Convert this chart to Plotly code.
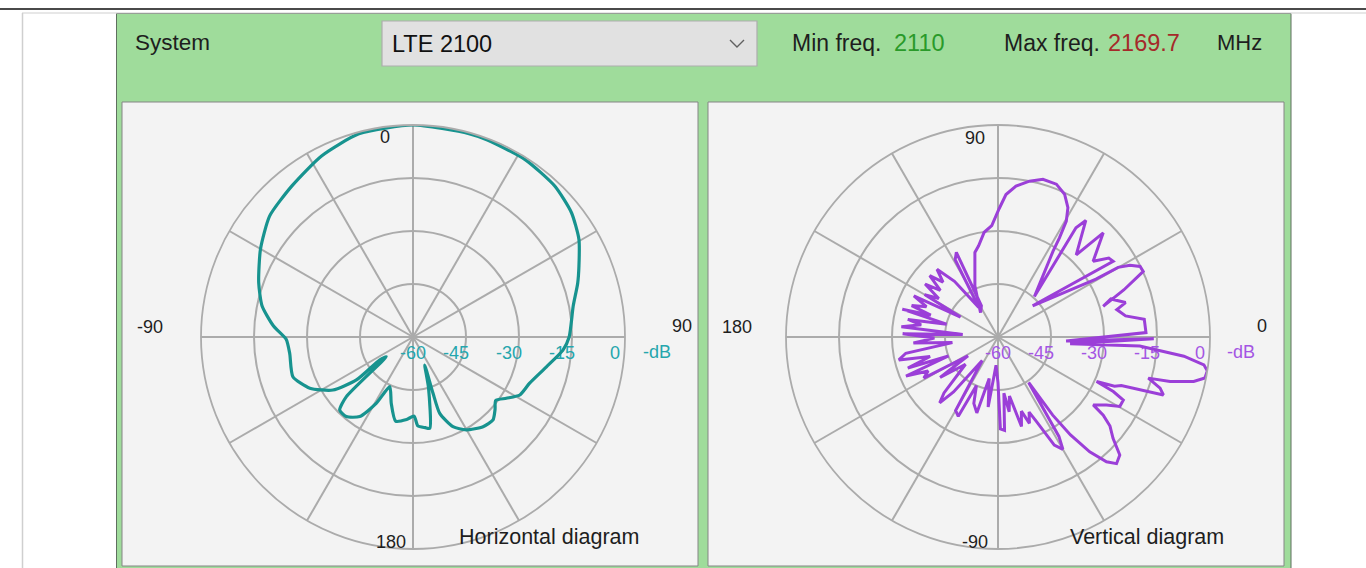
import plotly.graph_objects as go

W, H = 1366, 568

# ---- data -------------------------------------------------------------
# Horizontal diagram: azimuth in degrees (clockwise, 0 = boresight), level in dB
h_angle = [0, 15.4, 20.7, 32.3, 43.2, 51.9, 59.5, 66.8, 72, 79, 90, 95, 102.6,
           111.6, 118.5, 123.3, 127.5, 131.5, 136, 142, 150.2, 156, 160.7,
           160.4, 157.3, 163, 169.6, 172.3, 176.9, 179.2, -175.6, -168.3,
           -161.9, -154.9, -151, -146.2, -140, -134.9, -131.8, -126.4,
           -124.6, -127.2, -123.5, -116.4, -108.3, -97.5, -91, -85.5, -78.4,
           -70.6, -60.1, -49.8, -38.7, -26.8, -14.9, 0]
h_level = [0, -0.3, -0.4, -0.6, -1.4, -3.0, -5.5, -8.9, -11, -13.8, -15.8,
           -17.4, -21.3, -24.5, -25.6, -28.4, -30.5, -29, -27.4, -27.8, -29.7,
           -32.2, -37.1, -43.1, -51.4, -45, -33.7, -34.1, -34.8, -37.6, -36.6,
           -35.7, -40.2, -44.5, -38.5, -32.9, -30.6, -30.7, -34.7, -50.6,
           -48.5, -39.9, -32.8, -27.4, -24.2, -24.8, -24.1, -20.4, -16.4,
           -13.7, -10.2, -6.9, -5.2, -2.6, -0.5, 0]

# Vertical diagram: elevation in degrees (counter-clockwise, 0 = horizon), level in dB
v_angle = [-90, -88.5, -86, -84, -81.5, -79, -75.3, -72.5, -70, -67.5, -65.5,
           -62.5, -60, -58.5, -56, -55, -53.5, -51.4, -49, -46.9, -44.1,
           -41.4, -38.5, -36.6, -35.5, -32.1, -29.7, -26.7, -25.3, -24.3,
           -22.9, -21.5, -19.3, -17.5, -15.3, -14.5, -12.8, -11.2, -9.2, -7.7,
           -5.9, -3.65, -5.3, -0.6, -3.4, 1.7, 6.9, 9.4, 13, 15.1, 18.6, 16.2,
           20.5, 24.3, 26.4, 28.5, 30.1, 30.6, 42, 33.3, 35.5, 38.5, 44.7,
           46.4, 53, 54.5, 48, 57.3, 58.2, 59.5, 61.6, 65, 69.1, 74.1, 78.6,
           83.2, 86.8, 89.5, 93.2, 97.5, 102, 105.3, 114.3, 125.6, 118, 116.2,
           119, 123, 128, 132, 135, 138, 141, 144, 147, 150, 152, 154, 157,
           160, 162, 163.8, 166, 169, 171, 174, 176, 178, 181, 184, 187, 190,
           193, 196, 199, 201, 203, 206, 209, 212, 215, 220, 226, 228.5, 231,
           236, 240, 243.4, 246, 250, 254.4, 258, 262, 266, 270]
v_level = [-47, -34, -33.5, -44, -38.6, -43, -33.8, -38, -34, -37, -33.7,
           -25.5, -23.3, -27, -44.5, -33, -25.5, -18.4, -13.2, -10.9, -12,
           -16.6, -19.5, -22.9, -26.9, -23.8, -20.3, -20.3, -23.9, -29.4,
           -24.2, -22.5, -10.4, -11.9, -15.9, -9.7, -3.2, -0.3, 0, -1.2, -7.1,
           -19.8, -39.5, -15.9, -40.7, -18.1, -18.3, -23.4, -25.5, -22.6,
           -26.3, -29, -22, -14.9, -15.1, -17.5, -20.7, -27.8, -46.8, -21,
           -21.5, -25.6, -18.1, -27.9, -18.7, -22, -44.6, -31.2, -27, -21.9,
           -18.4, -15.4, -13.7, -13.6, -15, -17, -19.6, -23.7, -28.4, -30.1,
           -33.6, -35.2, -44.1, -51.5, -50, -33.3, -35, -50, -40, -34.2, -38,
           -34, -39, -34.5, -40, -36, -48, -33.5, -38, -34, -40, -31.8, -45,
           -34, -38, -32.5, -50, -33, -42, -36, -47, -33.5, -31.2, -40, -33,
           -45, -31.7, -38, -36, -50, -40, -48, -38, -35.1, -40, -52, -36,
           -34.9, -45, -40, -37.7, -48, -40, -52, -47]

ring_values = [-60, -45, -30, -15, 0]
ring_labels = ["-60", "-45", "-30", "-15", "0"]

system_name = "LTE 2100"
min_freq = "2110"
max_freq = "2169.7"

# ---- styling ----------------------------------------------------------
FONT = "Liberation Sans, Arial, sans-serif"
TEAL = "#17938f"
TEAL_TXT = "#25a6ad"
PURPLE = "#9b3fd8"
PURPLE_TXT = "#a455e3"
GRID = "#ababab"
PANEL = "#f3f3f3"
GREEN = "#9fdc9b"

R = 212                      # radius of the 0 dB ring, px
CY = 337
CX_H, CX_V = 413, 998
LABEL_SHIFT = 10 / (R / 60.0)  # ring labels sit ~10 px inside their ring


def px(x):
    return x / W


def py(y):
    return 1 - y / H


def polar_layout(cx, rotation, direction):
    return dict(
        domain=dict(x=[px(cx - R), px(cx + R)], y=[py(CY + R), py(CY - R)]),
        bgcolor=PANEL,
        angularaxis=dict(rotation=rotation, direction=direction, dtick=30,
                         showticklabels=False, ticks="", showgrid=True,
                         gridcolor=GRID, gridwidth=1.6, showline=True,
                         linecolor=GRID, linewidth=1.8),
        radialaxis=dict(range=[-60, 0], tickvals=[-45, -30, -15],
                        showticklabels=False, ticks="", showline=False,
                        showgrid=True, gridcolor=GRID, gridwidth=1.6),
    )


def ring_label_r():
    return [v if v == -60 else v - LABEL_SHIFT for v in ring_values]


def ring_label_trace(theta, color, subplot):
    # transparent markers push the labels a little below the 0-degree spoke
    return go.Scatterpolar(
        r=ring_label_r(), theta=[theta] * len(ring_values),
        mode="markers+text", text=ring_labels, textposition="bottom center",
        marker=dict(size=12, color="rgba(0,0,0,0)"),
        textfont=dict(family=FONT, size=18, color=color),
        subplot=subplot, hoverinfo="skip", showlegend=False, cliponaxis=False)


fig = go.Figure()

# ring labels first, so the patterns are drawn over them
fig.add_trace(ring_label_trace(90, TEAL_TXT, "polar"))
fig.add_trace(ring_label_trace(0, PURPLE_TXT, "polar2"))

fig.add_trace(go.Scatterpolar(
    r=h_level, theta=h_angle, mode="lines",
    line=dict(color=TEAL, width=3.2, shape="spline", smoothing=0.6),
    subplot="polar", showlegend=False))
fig.add_trace(go.Scatterpolar(
    r=v_level, theta=v_angle, mode="lines",
    line=dict(color=PURPLE, width=3),
    subplot="polar2", showlegend=False))

shapes = [
    # page rules
    dict(type="line", x0=px(0), x1=px(W), y0=py(9), y1=py(9),
         line=dict(color="#4a4a4a", width=2)),
    dict(type="line", x0=px(22), x1=px(W), y0=py(13), y1=py(13),
         line=dict(color="#cfcfcf", width=1)),
    dict(type="line", x0=px(22.5), x1=px(22.5), y0=py(13), y1=py(H),
         line=dict(color="#cfcfcf", width=1.5)),
    # green group box
    dict(type="rect", x0=px(116.5), x1=px(1291), y0=py(13.5), y1=py(H + 5),
         fillcolor=GREEN, line=dict(color="#5f6f5f", width=1), layer="below"),
    # combo box
    dict(type="rect", x0=px(382), x1=px(757), y0=py(21), y1=py(66),
         fillcolor="#e1e1e1", line=dict(color="#adadad", width=1.2),
         layer="below"),
    dict(type="path", path="M {} {} L {} {} L {} {}".format(
        px(730), py(40), px(737), py(47), px(744), py(40)),
         line=dict(color="#606060", width=1.4)),
    # diagram panels
    dict(type="rect", x0=px(122), x1=px(698), y0=py(102), y1=py(566),
         fillcolor=PANEL, line=dict(color="#858585", width=1), layer="below"),
    dict(type="rect", x0=px(708), x1=px(1284), y0=py(102), y1=py(566),
         fillcolor=PANEL, line=dict(color="#858585", width=1), layer="below"),
]
for s in shapes:
    s.setdefault("xref", "paper")
    s.setdefault("yref", "paper")


def note(text, x, y, size=18, color="#1e1e1e", anchor="center"):
    return dict(text=text, x=px(x), y=py(y), xref="paper", yref="paper",
                xanchor=anchor, yanchor="middle", showarrow=False,
                font=dict(family=FONT, size=size, color=color))


annotations = [
    note("System", 133, 43, 22.5, anchor="left"),
    note(system_name, 390, 44, 23.5, color="#111111", anchor="left"),
    note("Min freq.", 790, 43, 23, anchor="left"),
    note(min_freq, 892, 43, 23.5, color="#2a9a2a", anchor="left"),
    note("Max freq.", 1002, 43, 23, anchor="left"),
    note(max_freq, 1106, 43, 23.5, color="#a52a2a", anchor="left"),
    note("MHz", 1215, 43, 22, anchor="left"),
    # horizontal diagram angles
    note("0", 385, 137), note("90", 682, 326), note("-90", 150, 327),
    note("180", 391, 542),
    note("-dB", 657, 352, 18, TEAL_TXT),
    note("Horizontal diagram", 457, 537, 21.5, anchor="left"),
    # vertical diagram angles
    note("90", 975, 138), note("0", 1262, 326), note("180", 737, 327),
    note("-90", 975, 542),
    note("-dB", 1241, 352, 18, PURPLE_TXT),
    note("Vertical diagram", 1068, 537, 21.5, anchor="left"),
]

fig.update_layout(
    width=W, height=H, margin=dict(l=0, r=0, t=0, b=0),
    paper_bgcolor="white", plot_bgcolor="white",
    polar=polar_layout(CX_H, 90, "clockwise"),
    polar2=polar_layout(CX_V, 0, "counterclockwise"),
    shapes=shapes, annotations=annotations, showlegend=False,
)

fig.write_html("out.html")
